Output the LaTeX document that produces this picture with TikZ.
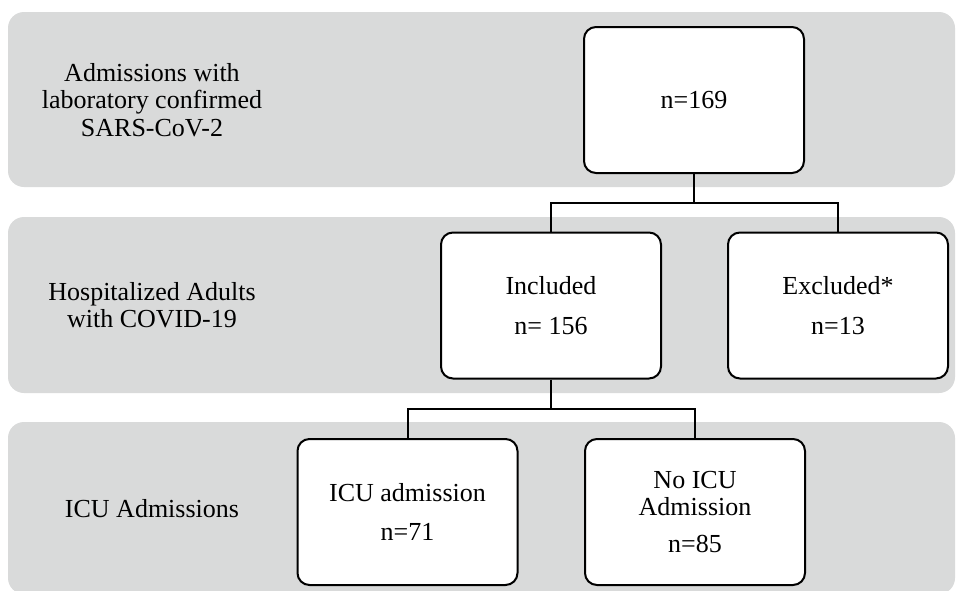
\documentclass[tikz,border=0pt]{standalone}
\usepackage{fontspec}
\setmainfont{Liberation Serif}
\usepackage{tikz}
\usetikzlibrary{positioning}

\definecolor{bandgray}{RGB}{217,218,218}

\begin{document}
\begin{tikzpicture}[
  x=0.75pt, y=-0.75pt,
  font=\fontsize{19.5}{20.6}\selectfont,
  band/.style={fill=bandgray, rounded corners=12pt},
  stage/.style={align=center, inner sep=0pt},
  countbox/.style={draw, fill=white, rounded corners=9pt, line width=1.5pt, align=center, minimum width=165pt, minimum height=109.5pt, inner sep=2pt},
  link/.style={line width=1.5pt}
]
\useasboundingbox (0,0) rectangle (957,590);
% grey rows
\fill[band] (8,12) rectangle (955,187);
\fill[band] (8,217) rectangle (955,393);
\fill[band] (8,422) rectangle (955,594);

% row labels
\node[stage] (s1) at (152,100) {Admissions with\\laboratory confirmed\\SARS-CoV-2};
\node[stage] (s2) at (152,305) {Hospitalized Adults\\with COVID-19};
\node[stage] (s3) at (152,509) {ICU Admissions};

% counts
\node[countbox] (total) at (694,100) {n=169};
\node[countbox] (incl) at (551,305.5) {Included\\[9pt]n= 156};
\node[countbox] (excl) at (838,305.5) {Excluded*\\[9pt]n=13};
\node[countbox] (icu) at (407.5,512) {ICU admission\\[8pt]n=71};
\node[countbox] (noicu) at (695,512) {No ICU\\Admission\\[7pt]n=85};

\coordinate (split1) at (694,203);
\coordinate (split2) at (551,409);
\draw[link] (total) -- (split1);
\draw[link] (incl.north) |- (split1) -| (excl.north);
\draw[link] (incl) -- (split2);
\draw[link] (icu.north) |- (split2) -| (noicu.north);
\end{tikzpicture}
\end{document}
